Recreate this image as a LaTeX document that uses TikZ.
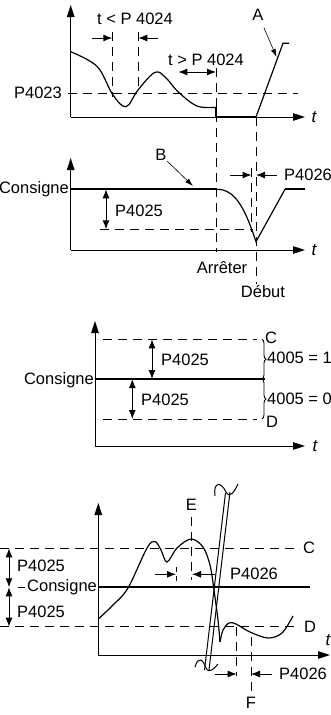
\documentclass[tikz,border=0pt]{standalone}
\usepackage{fontspec}
\setmainfont{Liberation Sans}
\usetikzlibrary{arrows.meta,decorations.pathreplacing}
\begin{document}
\begin{tikzpicture}[x=1pt,y=-1pt,
  lbl/.style={font=\fontsize{16.5}{19}\selectfont, inner sep=0pt},
  tl/.style={font=\fontsize{17}{19}\selectfont\itshape, inner sep=0pt},
  axis/.style={line width=1pt, -{Triangle[length=12pt,width=7.5pt]}},
  dsh/.style={line width=0.9pt, dash pattern=on 9pt off 6pt},
  bold/.style={line width=2pt},
  crv/.style={line width=1.2pt},
  dimarr/.style={line width=1pt, -{Latex[length=9pt,width=7pt]}},
  dbl/.style={line width=1pt, {Latex[length=9pt,width=7pt]}-{Latex[length=9pt,width=7pt]}},
  ptr/.style={line width=0.6pt, -{Latex[length=8pt,width=5pt]}},
  brc/.style={line width=0.9pt, decorate, decoration={brace, amplitude=4pt}},
  ]
\useasboundingbox (0,0) rectangle (330,715);

% ---------------- Panel 1 ----------------
\coordinate (o1) at (70.7,117);
\coordinate (y1) at (70.7,5);
\coordinate (x1) at (305,117);
\draw[axis] (o1) -- (y1);
\draw[axis] (o1) -- (x1);
\node[tl] (t1) at (314,117) {t};
\coordinate (p23a) at (68,93.3);
\coordinate (p23b) at (298,93.3);
\draw[dsh] (p23a) -- (p23b);
\node[lbl, anchor=east] (p4023) at (62,93.3) {P4023};
\draw[crv] plot[smooth, tension=0.6] coordinates {(70.7,51.7) (88,60) (100,70) (113,95) (126,106.7) (138,90) (155,72.3) (166,78) (178,91.7) (197,106) (216,107.3)};
\coordinate (dropA) at (216,107.3);
\coordinate (dropB) at (216,117);
\coordinate (startB) at (256,117);
\coordinate (rampT) at (283,43.3);
\coordinate (rampE) at (289,43.3);
\draw[crv] (dropA) -- (dropB);
\draw[bold] (dropB) -- (startB);
\draw[crv] (startB) -- (rampT) -- (rampE);
% dashed verticals
\coordinate (v1a) at (112.3,32); \coordinate (v1b) at (112.3,97);
\coordinate (v2a) at (138.3,32); \coordinate (v2b) at (138.3,92);
\draw[dsh] (v1a) -- (v1b);
\draw[dsh] (v2a) -- (v2b);
\coordinate (a1s) at (92,38); \coordinate (a1e) at (112.3,38);
\coordinate (a2s) at (158,38); \coordinate (a2e) at (138.3,38);
\draw[dimarr] (a1s) -- (a1e);
\draw[dimarr] (a2s) -- (a2e);
\node[lbl] (tlt) at (135,19) {t < P 4024};
\node[lbl] (tgt) at (206,60) {t > P 4024};
\coordinate (d1s) at (178.3,72); \coordinate (d1e) at (216,72);
\draw[dbl] (d1s) -- (d1e);
\coordinate (arrT) at (216,68); \coordinate (arrB) at (216,252);
\draw[dsh] (arrT) -- (arrB);
\coordinate (debT) at (256,117); \coordinate (debB) at (256,284);
\draw[dsh] (debT) -- (debB);
\node[lbl] (A) at (258,15) {A};
\coordinate (As) at (264,28);
\coordinate (Ap) at (276.5,57);
\draw[ptr] (As) -- (Ap);

% ---------------- Panel 2 ----------------
\coordinate (o2) at (70.7,250);
\coordinate (y2) at (70.7,158);
\coordinate (x2) at (305,250);
\draw[axis] (o2) -- (y2);
\draw[axis] (o2) -- (x2);
\node[tl] (t2) at (314,250) {t};
\coordinate (c2a) at (70.7,189.3);
\coordinate (c2b) at (216.7,189.3);
\coordinate (c2m) at (256,241.7);
\coordinate (c2r) at (285,189.3);
\coordinate (c2e) at (305,189.3);
\draw[bold] (c2a) -- (c2b);
\draw[crv] (c2b) .. controls (234,189.3) and (244,205) .. (c2m) -- (c2r);
\draw[bold] (c2r) -- (c2e);
\node[lbl, anchor=east] (cons2) at (69,189.5) {Consigne};
\coordinate (q2a) at (106,189.3); \coordinate (q2b) at (106,229.3);
\draw[dbl] (q2a) -- (q2b);
\node[lbl, anchor=west] (p25b) at (115,210.7) {P4025};
\coordinate (h2a) at (100,229.3); \coordinate (h2b) at (253,229.3);
\draw[dsh] (h2a) -- (h2b);
\coordinate (v3a) at (251.5,168); \coordinate (v3b) at (251.5,232);
\draw[dsh] (v3a) -- (v3b);
\coordinate (b1s) at (230,175); \coordinate (b1e) at (251.5,175);
\coordinate (b2s) at (277,175); \coordinate (b2e) at (256,175);
\draw[dimarr] (b1s) -- (b1e);
\draw[dimarr] (b2s) -- (b2e);
\node[lbl, anchor=west] (p26a) at (284,175) {P4026};
\node[lbl] (B) at (161,155) {B};
\coordinate (Bs) at (167,161);
\coordinate (Bp) at (193,186);
\draw[ptr] (Bs) -- (Bp);
\node[lbl] (arr) at (222,268) {Arrêter};
\node[lbl] (deb) at (263,292) {Début};

% ---------------- Panel 3 ----------------
\coordinate (o3) at (95,446);
\coordinate (y3) at (95,321);
\coordinate (x3) at (305,446);
\draw[axis] (o3) -- (y3);
\draw[axis] (o3) -- (x3);
\node[tl] (t3) at (315,446) {t};
\coordinate (c3a) at (95,379); \coordinate (c3b) at (265,379);
\draw[bold] (c3a) -- (c3b);
\node[lbl, anchor=east] (cons3) at (94,380) {Consigne};
\coordinate (u3a) at (103,339.3); \coordinate (u3b) at (257,339.3);
\coordinate (l3a) at (103,419); \coordinate (l3b) at (257,419);
\draw[dsh] (u3a) -- (u3b);
\draw[dsh] (l3a) -- (l3b);
\node[lbl] (C3) at (271,338) {C};
\node[lbl] (D3) at (272,422) {D};
\coordinate (br1a) at (262,339.3); \coordinate (br1b) at (262,379);
\coordinate (br2a) at (262,379); \coordinate (br2b) at (262,419);
\draw[brc] (br1a) -- (br1b);
\draw[brc] (br2a) -- (br2b);
\node[lbl, anchor=west] (e1) at (267,358) {4005 = 1};
\node[lbl, anchor=west] (e0) at (267,399) {4005 = 0};
\coordinate (q3a) at (152,339.3); \coordinate (q3b) at (152,379);
\coordinate (q4a) at (132.3,379); \coordinate (q4b) at (132.3,419);
\draw[dbl] (q3a) -- (q3b);
\draw[dbl] (q4a) -- (q4b);
\node[lbl, anchor=west] (p25c) at (161,360) {P4025};
\node[lbl, anchor=west] (p25d) at (141,400) {P4025};

% ---------------- Panel 4 ----------------
\coordinate (o4) at (98.3,655);
\coordinate (y4) at (98.3,503);
\coordinate (x4) at (330,655);
\draw[axis] (o4) -- (y4);
\draw[axis] (o4) -- (x4);
\node[tl] (t4) at (328,640) {t};
\coordinate (c4a) at (98.3,587.3); \coordinate (c4b) at (310,587.3);
\draw[bold] (c4a) -- (c4b);
\coordinate (u4a) at (0,548.3); \coordinate (u4b) at (300,548.3);
\coordinate (l4a) at (0,626.7); \coordinate (l4b) at (300,626.7);
\draw[dsh] (u4a) -- (u4b);
\draw[dsh] (l4a) -- (l4b);
\node[lbl] (C4) at (309,548.3) {C};
\node[lbl] (D4) at (310,627) {D};
\coordinate (q5a) at (9,548.3); \coordinate (q5b) at (9,587.3);
\coordinate (q6a) at (9,587.3); \coordinate (q6b) at (9,626.7);
\draw[dbl] (q5a) -- (q5b);
\draw[dbl] (q6a) -- (q6b);
\node[lbl, anchor=west] (p25e) at (17,566) {P4025};
\node[lbl, anchor=west] (p25f) at (17,612) {P4025};
\coordinate (cd1) at (18,587.3); \coordinate (cd2) at (25,587.3);
\draw[line width=0.9pt] (cd1) -- (cd2);
\node[lbl, anchor=west] (cons4) at (27,587.5) {Consigne};
% curve
\draw[crv] plot[smooth, tension=0.55] coordinates {(98.3,619) (113,605) (128,588) (147,548) (155,541.5) (161,550) (167,562) (177,548) (191,539) (203,547) (210,565) (214,590) (218,620) (220,642)};
\draw[crv] plot[smooth, tension=0.55] coordinates {(220,642) (223,630) (229,623) (236,624) (250,632) (268,638) (282,633) (293,616)};
% break
\coordinate (bl1t) at (225.5,493); \coordinate (bl1b) at (204.5,670);
\coordinate (bl2t) at (230,492); \coordinate (bl2b) at (209,670);
\draw[line width=1pt] (bl1t) -- (bl1b);
\draw[line width=1pt] (bl2t) -- (bl2b);
\draw[line width=1pt] (215,496) .. controls (213,482) and (221,481) .. (226,492) .. controls (230,499) and (234,492) .. (238,484);
\draw[line width=1pt] (195,667) .. controls (198,656) and (203,659) .. (206,668) .. controls (209,674) and (214,669) .. (218,664);
% E
\node[lbl] (E) at (191.5,505) {E};
\coordinate (ea) at (191.5,517); \coordinate (eb) at (191.5,580);
\draw[dsh] (ea) -- (eb);
\coordinate (pa) at (176,567); \coordinate (pb) at (176,582);
\draw[line width=0.9pt, dash pattern=on 5pt off 4pt] (pa) -- (pb);
\coordinate (g1s) at (155,574.3); \coordinate (g1e) at (176,574.3);
\coordinate (g2s) at (215,574.3); \coordinate (g2e) at (192,574.3);
\draw[dimarr] (g1s) -- (g1e);
\draw[dimarr] (g2s) -- (g2e);
\node[lbl, anchor=west] (p26b) at (230,574.3) {P4026};
% F
\coordinate (fa) at (236.7,627); \coordinate (fb) at (236.7,676);
\coordinate (fc) at (251,637); \coordinate (fd) at (251,692);
\draw[dsh] (fa) -- (fb);
\draw[dsh] (fc) -- (fd);
\coordinate (h1s) at (215,674); \coordinate (h1e) at (236.7,674);
\coordinate (h2s) at (272,674); \coordinate (h2e) at (251,674);
\draw[dimarr] (h1s) -- (h1e);
\draw[dimarr] (h2s) -- (h2e);
\node[lbl, anchor=west] (p26c) at (279,674) {P4026};
\node[lbl] (F) at (251,703) {F};
\end{tikzpicture}
\end{document}
